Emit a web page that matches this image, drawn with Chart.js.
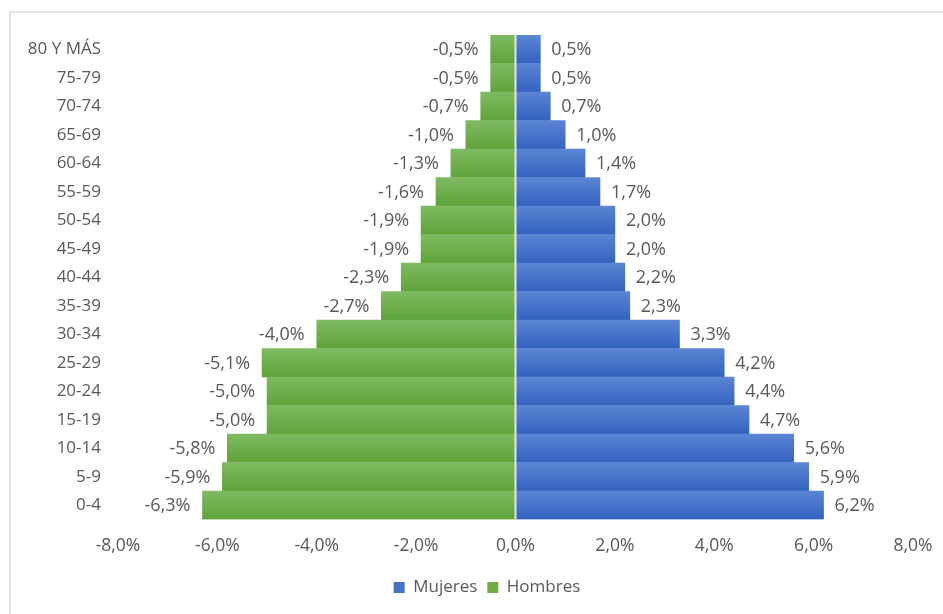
<!DOCTYPE html>
<html>
<head>
<meta charset="utf-8">
<script src="https://cdn.jsdelivr.net/npm/chart.js@4/dist/chart.umd.min.js"></script>
<style>
  html, body { margin: 0; padding: 0; background: #ffffff; }
  #wrap { position: relative; width: 943px; height: 614px; overflow: hidden; }
  #frame { position: absolute; left: 9px; top: 11px; width: 960px; height: 640px;
           border-top: 2px solid #dfe3e9; border-left: 2px solid #dfe3e9; box-sizing: border-box; }
  canvas { position: absolute; left: 0; top: 0; }
</style>
</head>
<body>
<div id="wrap">
  <div id="frame"></div>
  <canvas id="c" width="943" height="614"></canvas>
</div>
<script>
// Age groups, top to bottom
const categories = ["80 Y MÁS","75-79","70-74","65-69","60-64","55-59","50-54","45-49","40-44","35-39","30-34","25-29","20-24","15-19","10-14","5-9","0-4"];
// Women (%)
const mujeres = [0.5,0.5,0.7,1.0,1.4,1.7,2.0,2.0,2.2,2.3,3.3,4.2,4.4,4.7,5.6,5.9,6.2];
// Men (%), drawn to the left
const hombres = [-0.5,-0.5,-0.7,-1.0,-1.3,-1.6,-1.9,-1.9,-2.3,-2.7,-4.0,-5.1,-5.0,-5.0,-5.8,-5.9,-6.3];
// X axis ticks
const xTicks = [-8,-6,-4,-2,0,2,4,6,8];

const FONT = "'Open Sans', sans-serif";
const TXT = "#595959";

function fmt(v) { return v.toFixed(1).replace('.', ',') + '%'; }

function gradFill(top, bottom, solid) {
  return function(c) {
    const chart = c.chart;
    const ys = chart.scales && chart.scales.y;
    if (c.type !== 'data' || !ys || ys.height === undefined) return solid;
    const yc = ys.getPixelForValue(c.dataIndex);
    const h = ys.height / categories.length;
    if (!isFinite(yc) || !isFinite(h) || h <= 0) return solid;
    const g = chart.ctx.createLinearGradient(0, yc - h / 2, 0, yc + h / 2);
    g.addColorStop(0, top);
    g.addColorStop(1, bottom);
    return g;
  };
}

const labelPlugin = {
  id: 'valueLabels',
  afterLayout(chart) {
    const lg = chart.legend;
    if (lg) {
      const d = 487 - (lg.left + lg.right) / 2;
      lg.left += d; lg.right += d;
    }
  },
  afterDatasetsDraw(chart) {
    const ctx = chart.ctx;
    const xs = chart.scales.x;
    const x0 = xs.getPixelForValue(0);
    // zero line
    ctx.save();
    ctx.strokeStyle = '#e2e5ea';
    ctx.lineWidth = 2;
    ctx.beginPath();
    ctx.moveTo(x0, chart.chartArea.top);
    ctx.lineTo(x0, chart.chartArea.bottom);
    ctx.stroke();
    ctx.font = "18px " + FONT;
    ctx.fillStyle = TXT;
    ctx.textBaseline = 'middle';
    chart.data.datasets.forEach((ds, di) => {
      const meta = chart.getDatasetMeta(di);
      meta.data.forEach((bar, i) => {
        const v = ds.data[i];
        if (v < 0) { ctx.textAlign = 'right'; ctx.fillText(fmt(v), bar.x - 12, bar.y + 1); }
        else { ctx.textAlign = 'left'; ctx.fillText(fmt(v), bar.x + 11, bar.y + 1); }
      });
    });
    ctx.restore();
  }
};

new Chart(document.getElementById('c'), {
  type: 'bar',
  data: {
    labels: categories,
    datasets: [
      { label: 'Mujeres', data: mujeres,
        backgroundColor: gradFill('#5b85d4', '#3362bf', '#4472C4'),
        borderWidth: 0, barPercentage: 1, categoryPercentage: 1 },
      { label: 'Hombres', data: hombres,
        backgroundColor: gradFill('#7fba62', '#5fa339', '#70AD47'),
        borderWidth: 0, barPercentage: 1, categoryPercentage: 1 }
    ]
  },
  options: {
    indexAxis: 'y',
    responsive: false,
    animation: false,
    devicePixelRatio: 1,
    layout: { padding: { left: 10, right: 30, top: 35, bottom: 8 } },
    scales: {
      x: {
        stacked: true,
        min: -8, max: 8,
        afterBuildTicks(axis) { axis.ticks = xTicks.map(v => ({ value: v })); },
        afterFit(axis) { axis.height = 49.5; axis.paddingLeft = 0; axis.paddingRight = 0; },
        grid: { display: false, drawTicks: false },
        border: { display: false },
        ticks: { padding: 16, color: TXT, font: { family: FONT, size: 17.5 },
                 callback: (v) => fmt(v) }
      },
      y: {
        stacked: true,
        afterFit(axis) { axis.width = 108; },
        grid: { display: false, drawTicks: false },
        border: { display: false },
        ticks: { padding: 17, color: TXT, font: { family: FONT, size: 17 } }
      }
    },
    plugins: {
      legend: {
        position: 'bottom',
        labels: { boxWidth: 11, boxHeight: 11, padding: 10, color: TXT,
                  font: { family: FONT, size: 17 },
                  generateLabels(chart) {
                    const cols = ['#4472C4', '#70AD47'];
                    return chart.data.datasets.map((ds, i) => ({
                      text: ds.label, fillStyle: cols[i], strokeStyle: cols[i],
                      lineWidth: 0, hidden: false, datasetIndex: i, fontColor: TXT
                    }));
                  } }
      },
      tooltip: { enabled: false }
    }
  },
  plugins: [labelPlugin]
});
</script>
</body>
</html>
